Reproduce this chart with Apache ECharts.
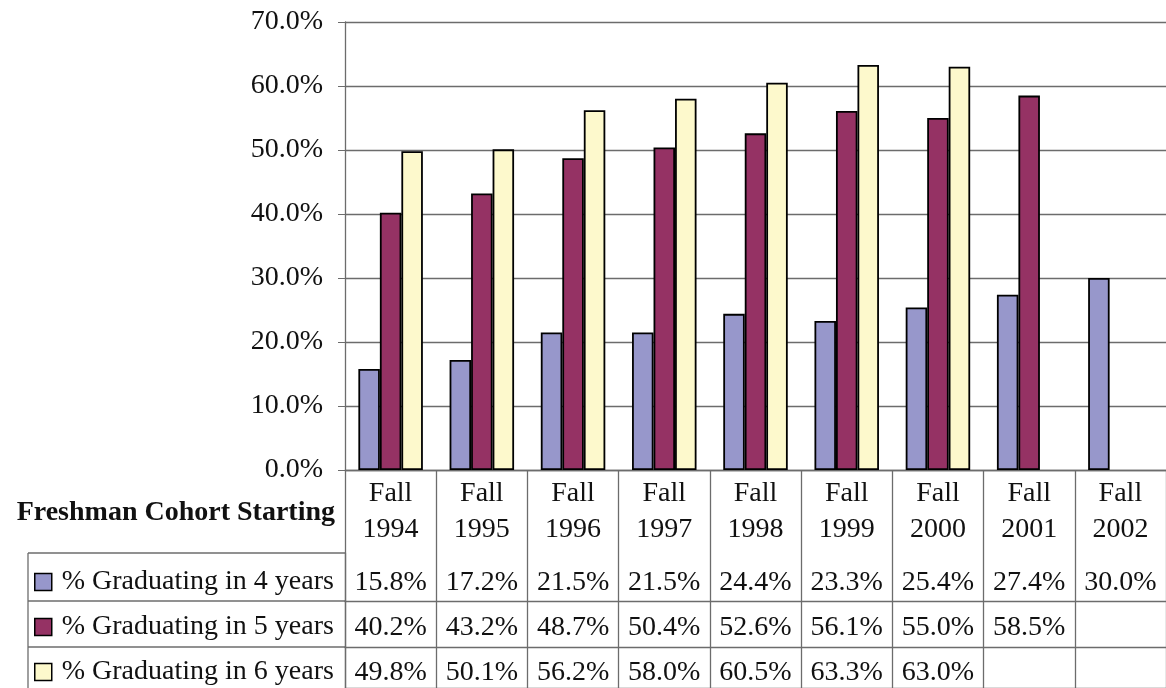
<!DOCTYPE html>
<html><head><meta charset="utf-8">
<script src="https://cdn.jsdelivr.net/npm/echarts@6/dist/echarts.min.js"></script>
<style>html,body{margin:0;padding:0;background:#fff}#c{width:1166px;height:688px}</style>
</head><body><div id="c"></div>
<script>
const categories = ['Fall\n1994','Fall\n1995','Fall\n1996','Fall\n1997','Fall\n1998','Fall\n1999','Fall\n2000','Fall\n2001','Fall\n2002'];
const seriesNames = ['% Graduating in 4 years','% Graduating in 5 years','% Graduating in 6 years'];
const grad4 = [15.8,17.2,21.5,21.5,24.4,23.3,25.4,27.4,30.0];
const grad5 = [40.2,43.2,48.7,50.4,52.6,56.1,55.0,58.5,null];
const grad6 = [49.8,50.1,56.2,58.0,60.5,63.3,63.0,null,null];
const yTicks = [0,10,20,30,40,50,60,70];
const tableTitle = 'Freshman Cohort Starting';

const FONT = '"Liberation Serif","Times New Roman",serif';
const FS = 28;
const colors = ['#9797CB','#953264','#FDF9CC'];
const lineCol = '#6c6c6c';
const L = 345, R = 0;
const rows = [{top:553,h:48},{top:601,h:46},{top:647,h:41}];
const allSeries = [grad4, grad5, grad6];

const grids = [{left:L,right:R,top:22,height:448}];
const xAxes = [{
  type:'category', data:categories, gridIndex:0,
  axisLine:{lineStyle:{color:lineCol,width:1.3}},
  axisTick:{show:true,length:83,interval:0,lineStyle:{color:lineCol,width:1.3}},
  axisLabel:{interval:0,margin:6,fontFamily:FONT,fontSize:FS,color:'#111',lineHeight:36},
  splitLine:{show:false}
}];
const yAxes = [{
  type:'value', gridIndex:0, min:yTicks[0], max:yTicks[yTicks.length-1], interval:10,
  axisLine:{show:true,lineStyle:{color:lineCol,width:1.3}},
  axisTick:{show:true,length:7,lineStyle:{color:lineCol}},
  axisLabel:{margin:22,fontFamily:FONT,fontSize:FS,color:'#111',formatter:v=>v.toFixed(1)+'%'},
  splitLine:{show:true,lineStyle:{color:lineCol,width:1.3}}
}];
const labelMargins = [30,27,26];
rows.forEach((r,i)=>{
  const gi = i+1;
  grids.push({left:L,right:R,top:r.top,height:r.h});
  xAxes.push({
    type:'category', gridIndex:gi, position:'top',
    data:allSeries[i].map(v=>v==null?'':v.toFixed(1)+'%'),
    axisLine:{show:true,lineStyle:{color:lineCol,width:1.3}},
    axisTick:{show:false},
    axisLabel:{interval:0,inside:true,margin:labelMargins[i],verticalAlign:'middle',fontFamily:FONT,fontSize:FS,color:'#111'},
    splitLine:{show:true,interval:0,lineStyle:{color:lineCol,width:1.3}}
  });
  yAxes.push({type:'value',gridIndex:gi,show:true,axisLine:{show:true,lineStyle:{color:lineCol,width:1.3}},axisTick:{show:false},axisLabel:{show:false},splitLine:{show:false}});
});

const series = seriesNames.map((n,i)=>({
  name:n, type:'bar', xAxisIndex:0, yAxisIndex:0, data:allSeries[i],
  barWidth:21.5, barGap:'0%',
  itemStyle:{color:colors[i],borderColor:'#000',borderWidth:1.8},
  emphasis:{disabled:true}
}));

const legendRowLines = rows.map(r=>({type:'line',shape:{x1:28,y1:r.top,x2:L,y2:r.top},style:{stroke:lineCol,lineWidth:1.3}}));

const option = {
  backgroundColor:'#fff',
  animation:false,
  grid:grids, xAxis:xAxes, yAxis:yAxes, series:series,
  legend:{
    orient:'vertical', left:34, top:568, height:160, itemWidth:17, itemHeight:17, itemGap:17,
    icon:'rect', selectedMode:false, padding:0,
    itemStyle:{borderColor:'#000',borderWidth:1.5},
    textStyle:{fontFamily:FONT,fontSize:FS,color:'#111',padding:[0,0,0,5]},
    data:seriesNames
  },
  graphic:[
    ...legendRowLines,
    {type:'line',shape:{x1:28,y1:rows[0].top,x2:28,y2:688},style:{stroke:lineCol,lineWidth:1.3}},
    {type:'text',right:1166-335,top:499,style:{text:tableTitle,font:'bold 28px '+FONT,fill:'#111',textAlign:'right'}}
  ]
};
echarts.init(document.getElementById('c')).setOption(option);
</script></body></html>
